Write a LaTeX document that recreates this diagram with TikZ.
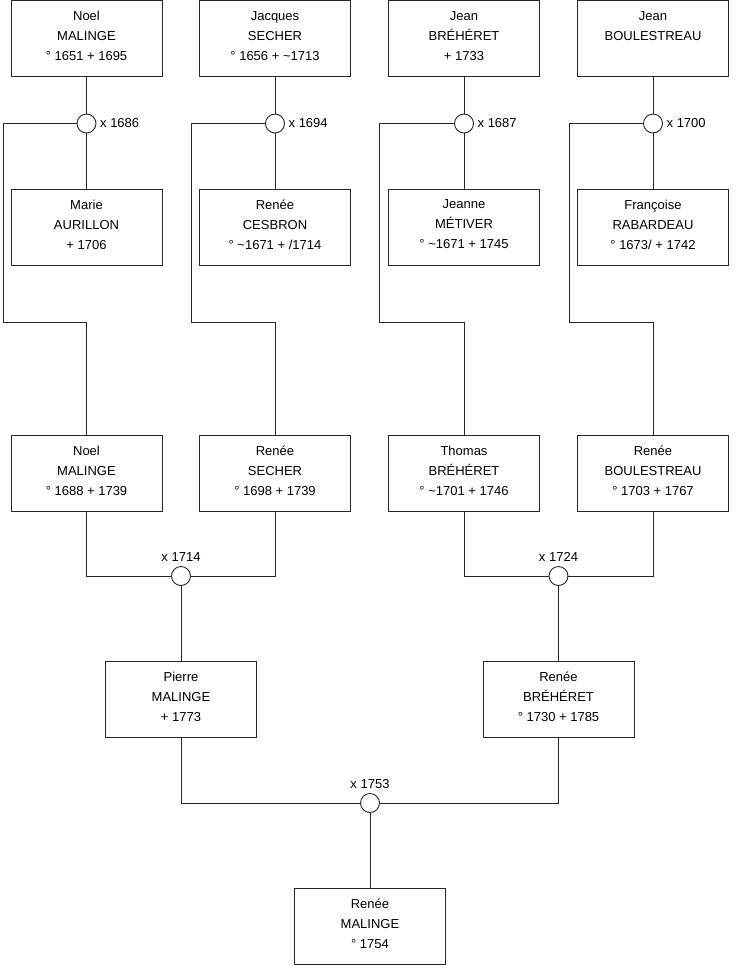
\documentclass[tikz,border=0pt]{standalone}
\usepackage{fontspec}
\setmainfont{Liberation Sans}
\begin{document}
\begin{tikzpicture}[x=1pt,y=-1pt,
  pbox/.style={draw=black!85,line width=0.9pt,fill=white,minimum width=151pt,minimum height=76pt,inner sep=0pt},
  ptxt/.style={anchor=north,align=center,inner sep=0pt,font=\fontsize{13}{20}\selectfont,yshift=-11pt},
  wed/.style={circle,draw=black!85,line width=0.9pt,fill=white,minimum size=19pt,inner sep=0pt},
  mlab/.style={inner sep=0pt,font=\fontsize{13}{16}\selectfont},
  conn/.style={draw=black!85,line width=0.9pt}]
\useasboundingbox (0,0) rectangle (740,975);
% top row
\node[pbox] (a1) at (86.5,38.5) {};
\node[pbox] (a2) at (275,38.5) {};
\node[pbox] (a3) at (464,38.5) {};
\node[pbox] (a4) at (653,38.5) {};
% second row
\node[pbox] (b1) at (86.5,227) {};
\node[pbox] (b2) at (275,227) {};
\node[pbox] (b3) at (464,227) {};
\node[pbox] (b4) at (653,227) {};
% third row
\node[pbox] (c1) at (86.5,473) {};
\node[pbox] (c2) at (275,473) {};
\node[pbox] (c3) at (464,473) {};
\node[pbox] (c4) at (653,473) {};
% fourth row
\node[pbox] (d1) at (181,699.5) {};
\node[pbox] (d2) at (558.5,699.5) {};
% bottom
\node[pbox] (e1) at (370,926) {};
% marriages
\node[wed,label={[mlab,label distance=3.5pt]right:x 1686}] (m1) at (86.5,123.5) {};
\node[wed,label={[mlab,label distance=3.5pt]right:x 1694}] (m2) at (275,123.5) {};
\node[wed,label={[mlab,label distance=3.5pt]right:x 1687}] (m3) at (464,123.5) {};
\node[wed,label={[mlab,label distance=3.5pt]right:x 1700}] (m4) at (653,123.5) {};
\node[wed,label={[mlab,label distance=4pt]above:x 1714}] (m5) at (181,576) {};
\node[wed,label={[mlab,label distance=4pt]above:x 1724}] (m6) at (558.5,576) {};
\node[wed,label={[mlab,label distance=4pt]above:x 1753}] (m7) at (370,803) {};
% bend points
\coordinate (k1) at (3,322);
\coordinate (k2) at (191,322);
\coordinate (k3) at (379,322);
\coordinate (k4) at (569,322);
% connectors
\begin{scope}[on background layer/.style={}]
\path[conn] (a1) -- (m1) -- (b1);
\path[conn] (a2) -- (m2) -- (b2);
\path[conn] (a3) -- (m3) -- (b3);
\path[conn] (a4) -- (m4) -- (b4);
\path[conn] (m1.west) -| (k1) -| (c1.north);
\path[conn] (m2.west) -| (k2) -| (c2.north);
\path[conn] (m3.west) -| (k3) -| (c3.north);
\path[conn] (m4.west) -| (k4) -| (c4.north);
\path[conn] (c1.south) |- (m5.west);
\path[conn] (c2.south) |- (m5.east);
\path[conn] (c3.south) |- (m6.west);
\path[conn] (c4.south) |- (m6.east);
\path[conn] (m5) -- (d1);
\path[conn] (m6) -- (d2);
\path[conn] (d1.south) |- (m7.west);
\path[conn] (d2.south) |- (m7.east);
\path[conn] (m7) -- (e1);
\end{scope}
% texts
\node[ptxt] at (a1.north) {Noel\\MALINGE\\° 1651 + 1695};
\node[ptxt] at (a2.north) {Jacques\\SECHER\\° 1656 + \textasciitilde1713};
\node[ptxt] at (a3.north) {Jean\\BRÉHÉRET\\+ 1733};
\node[ptxt] at (a4.north) {Jean\\BOULESTREAU};
\node[ptxt] at (b1.north) {Marie\\AURILLON\\+ 1706};
\node[ptxt] at (b2.north) {Renée\\CESBRON\\° \textasciitilde1671 + /1714};
\node[ptxt] at (b3.north) {Jeanne\\MÉTIVER\\° \textasciitilde1671 + 1745};
\node[ptxt] at (b4.north) {Françoise\\RABARDEAU\\° 1673/ + 1742};
\node[ptxt] at (c1.north) {Noel\\MALINGE\\° 1688 + 1739};
\node[ptxt] at (c2.north) {Renée\\SECHER\\° 1698 + 1739};
\node[ptxt] at (c3.north) {Thomas\\BRÉHÉRET\\° \textasciitilde1701 + 1746};
\node[ptxt] at (c4.north) {Renée\\BOULESTREAU\\° 1703 + 1767};
\node[ptxt] at (d1.north) {Pierre\\MALINGE\\+ 1773};
\node[ptxt] at (d2.north) {Renée\\BRÉHÉRET\\° 1730 + 1785};
\node[ptxt] at (e1.north) {Renée\\MALINGE\\° 1754};
\end{tikzpicture}
\end{document}
